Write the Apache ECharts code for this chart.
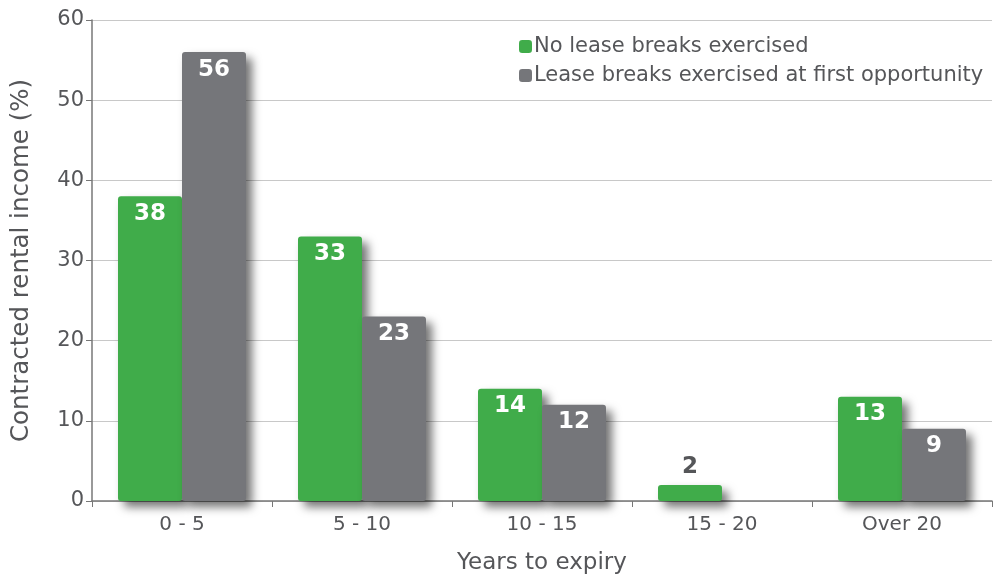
<!DOCTYPE html>
<html>
<head>
<meta charset="utf-8">
<script src="https://cdn.jsdelivr.net/npm/echarts@6/dist/echarts.min.js"></script>
<style>
  html, body { margin: 0; padding: 0; background: #fff; }
  #chart { width: 993px; height: 579px; }
</style>
</head>
<body>
<div id="chart"></div>
<script>
// Years-to-expiry buckets and contracted rental income shares (%)
const categories = ['0 - 5', '5 - 10', '10 - 15', '15 - 20', 'Over 20'];
const noBreaks = [38, 33, 14, 2, 13];
const breaksAtFirst = [56, 23, 12, null, 9];
const yTicks = [0, 10, 20, 30, 40, 50, 60];

const GREEN = '#40ac4a';
const GREY = '#75767a';
const TEXT = '#555659';
const FONT = '"DejaVu Sans", "Noto Sans", sans-serif';

// Small bars get their value above the bar instead of inside it
function withLabels(values) {
  return values.map(v => {
    if (v === null) return null;
    if (v < 5) {
      return { value: v, label: { position: 'top', color: TEXT, distance: 6 } };
    }
    return v;
  });
}

const barShadow = {
  shadowColor: 'rgba(0,0,0,0.55)',
  shadowBlur: 10,
  shadowOffsetX: 6,
  shadowOffsetY: 6
};

const valueLabel = {
  show: true,
  position: 'insideTop',
  distance: 6,
  color: '#fff',
  fontSize: 23,
  fontWeight: 'bold',
  fontFamily: FONT
};

const chart = echarts.init(document.getElementById('chart'));
chart.setOption({
  animation: false,
  textStyle: { fontFamily: FONT },
  grid: { left: 92, right: 1, top: 20, bottom: 78, outerBoundsMode: 'none' },
  legend: {
    orient: 'vertical',
    left: 514,
    top: 31,
    itemWidth: 13,
    itemHeight: 13,
    itemGap: 8,
    icon: 'roundRect',
    textStyle: { fontSize: 21, color: TEXT, fontFamily: FONT, padding: [0, 0, 0, -3] },
    data: ['No lease breaks exercised', 'Lease breaks exercised at first opportunity']
  },
  xAxis: {
    type: 'category',
    data: categories,
    name: 'Years to expiry',
    nameLocation: 'middle',
    nameGap: 51,
    nameTextStyle: { fontSize: 23, color: TEXT },
    axisLine: { lineStyle: { color: '#777', width: 1.5 } },
    axisTick: { show: true, length: 6, lineStyle: { color: '#777' } },
    axisLabel: { fontSize: 20, color: TEXT, margin: 14 }
  },
  yAxis: {
    type: 'value',
    min: yTicks[0],
    max: yTicks[yTicks.length - 1],
    interval: 10,
    name: 'Contracted rental income (%)',
    nameLocation: 'middle',
    nameGap: 58,
    nameTextStyle: { fontSize: 24.5, color: TEXT },
    axisLine: { show: true, lineStyle: { color: '#777', width: 1.5 } },
    axisTick: { show: true, length: 6, lineStyle: { color: '#777' } },
    axisLabel: { fontSize: 21, color: TEXT, margin: 8 },
    splitLine: { lineStyle: { color: '#c8c8c8', width: 1 } }
  },
  series: [
    {
      name: 'No lease breaks exercised',
      type: 'bar',
      data: withLabels(noBreaks),
      barWidth: 64,
      barGap: '0%',
      itemStyle: Object.assign({ color: GREEN, borderRadius: 3 }, barShadow),
      label: valueLabel
    },
    {
      name: 'Lease breaks exercised at first opportunity',
      type: 'bar',
      data: withLabels(breaksAtFirst),
      barWidth: 64,
      barGap: '0%',
      itemStyle: Object.assign({ color: GREY, borderRadius: 3 }, barShadow),
      label: valueLabel
    }
  ]
});
</script>
</body>
</html>
